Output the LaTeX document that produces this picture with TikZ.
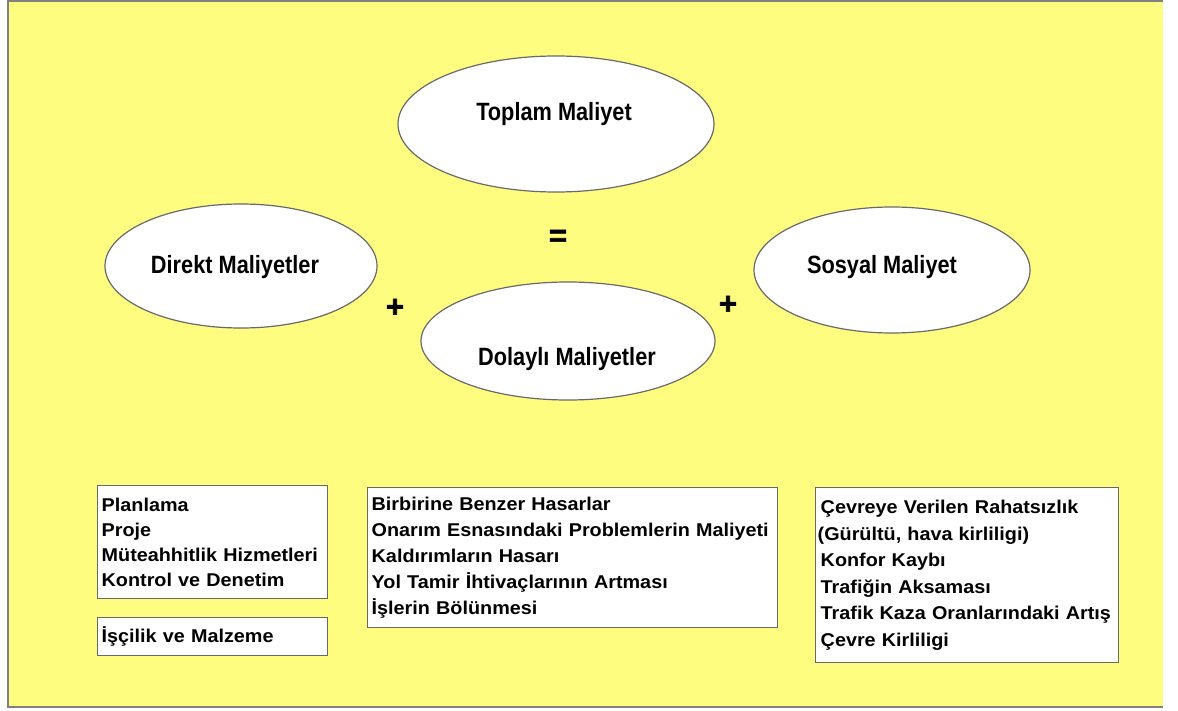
\documentclass[tikz,border=0pt]{standalone}
\usepackage{fontspec}
\setmainfont{Liberation Sans}
\newfontfamily\ellfont[FakeStretch=0.87]{Liberation Sans Bold}
\newfontfamily\boxfont[FakeStretch=1.07]{Liberation Sans Bold}
\newfontfamily\signfont[FakeBold=2]{Liberation Sans Bold}
\usetikzlibrary{shapes.geometric}
\definecolor{bgyellow}{RGB}{255,253,128}
\definecolor{edgegray}{RGB}{105,105,105}
\tikzset{
  ell/.style={ellipse, fill=white, draw=edgegray, line width=1.2pt, inner sep=0pt},
  etext/.style={anchor=base, font=\ellfont\fontsize{25}{28}\selectfont, inner sep=0pt},
  sign/.style={font=\signfont\fontsize{31}{34}\selectfont, inner sep=0pt},
  listbox/.style={rectangle, fill=white, draw=edgegray, line width=1.4pt, anchor=north west,
    align=left, inner xsep=4pt, inner ysep=0pt},
}
\begin{document}
\begin{tikzpicture}[x=1pt,y=-1pt]
\useasboundingbox (0,0) rectangle (1178,711);
\fill[bgyellow] (8,1) rectangle (1163,707);
\draw[gray, line width=1.5pt] (1163,1) -- (8,1) -- (8,707) -- (1163,707);

\node[ell, minimum width=316pt, minimum height=136pt] (tm) at (556,124) {};
\node[ell, minimum width=272pt, minimum height=124pt] (dm) at (241,266) {};
\node[ell, minimum width=294pt, minimum height=118pt] (dlm) at (568,341) {};
\node[ell, minimum width=276pt, minimum height=126pt] (sm) at (892,270) {};

\node[etext] (tmt) at (554,121) {Toplam Maliyet};
\node[etext] (dmt) at (235,274) {Direkt Maliyetler};
\node[etext] (dlmt) at (567,365) {Dolaylı Maliyetler};
\node[etext] (smt) at (882,274) {Sosyal Maliyet};

\node[sign] (eq) at (558,238) {=};
\node[sign] (p1) at (395,308) {+};
\node[sign] (p2) at (728,305) {+};

\node[listbox, text width=222pt, minimum height=113pt,
  font=\boxfont\fontsize{18.5}{25}\selectfont] (b1) at (97,485)
  {Planlama\\Proje\\Müteahhitlik Hizmetleri\\Kontrol ve Denetim};
\node[listbox, text width=222pt, minimum height=38pt,
  font=\boxfont\fontsize{18.5}{25}\selectfont] (b2) at (97,617)
  {İşçilik ve Malzeme};
\node[listbox, text width=402pt, minimum height=140pt,
  font=\boxfont\fontsize{18.5}{26.2}\selectfont] (b3) at (367,487)
  {Birbirine Benzer Hasarlar\\Onarım Esnasındaki Problemlerin Maliyeti\\Kaldırımların Hasarı\\Yol Tamir İhtivaçlarının Artması\\İşlerin Bölünmesi};
\node[listbox, text width=299pt, minimum height=175pt, inner xsep=2pt,
  font=\boxfont\fontsize{18.5}{26.6}\selectfont] (b4) at (815,487)
  {\hspace*{3pt}Çevreye Verilen Rahatsızlık\\(Gürültü, hava kirliligi)\\\hspace*{3pt}Konfor Kaybı\\\hspace*{3pt}Trafiğin Aksaması\\\hspace*{3pt}Trafik Kaza Oranlarındaki Artış\\\hspace*{3pt}Çevre Kirliligi};
\end{tikzpicture}
\end{document}
